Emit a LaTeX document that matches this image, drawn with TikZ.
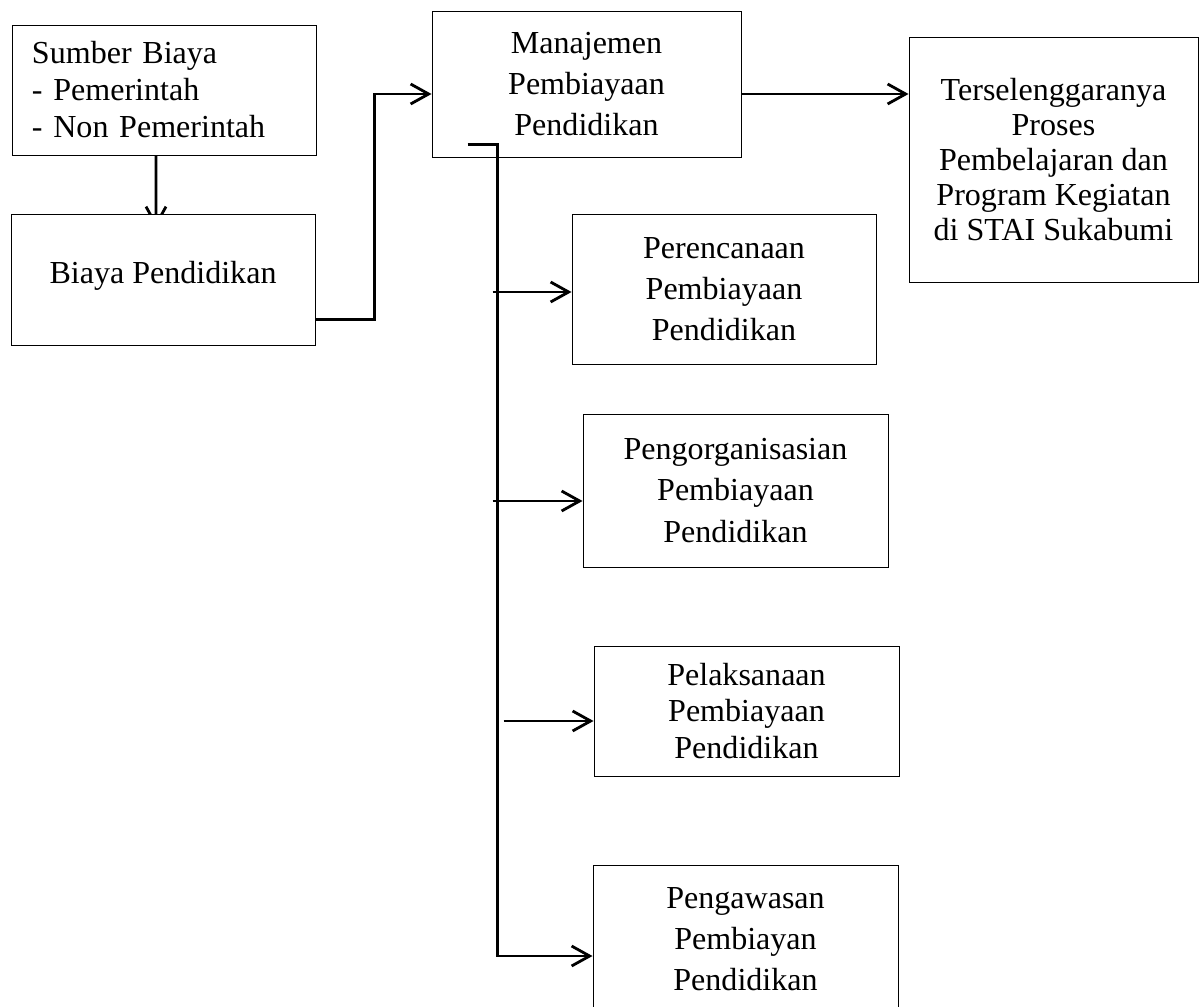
\documentclass[tikz,border=0pt]{standalone}
\usepackage{fontspec}
\setmainfont{Liberation Serif}
\usetikzlibrary{arrows.meta,backgrounds}

\begin{document}
\begin{tikzpicture}[
  box/.style={draw,line width=0.7pt,fill=white,align=center,inner sep=0pt,
    font=\fontsize{22.8}{29.2}\selectfont},
  tight/.style={font=\fontsize{22.8}{26.3}\selectfont},
  arr/.style={line width=2pt,-{Straight Barb[length=0.45cm,width=0.5cm]}}
]

  \useasboundingbox (0,0) rectangle (29.975,-25.15);

  \node[box,tight,align=left,text width=6.6cm,minimum width=7.6cm,minimum height=3.25cm] (sumber) at (4.1,-2.25) {Sumber Biaya\\- Pemerintah\\- Non Pemerintah};
  \node[box,below of=sumber,xshift=-0.025cm,yshift=-3.7375cm,minimum width=7.6cm,minimum height=3.275cm,text height=0.5cm,text depth=0.325cm] (biaya) {Biaya Pendidikan};

  \node[box,right of=sumber,xshift=9.5625cm,yshift=0.15cm,minimum width=7.725cm,minimum height=3.65cm] (manajemen) {Manajemen\\Pembiayaan\\Pendidikan};
  \node[box,right of=manajemen,xshift=10.675cm,yshift=-1.8875cm,minimum width=7.225cm,minimum height=6.125cm,font=\fontsize{22.8}{24.9}\selectfont] (tujuan) {Terselenggaranya\\Proses\\Pembelajaran dan\\Program Kegiatan\\di STAI Sukabumi};

  \node[box,below of=manajemen,xshift=3.4375cm,yshift=-4.125cm,minimum width=7.6cm,minimum height=3.75cm] (perencanaan) {Perencanaan\\Pembiayaan\\Pendidikan};
  \node[box,below of=perencanaan,xshift=0.2875cm,yshift=-4.0375cm,minimum width=7.625cm,minimum height=3.825cm] (pengorganisasian) {Pengorganisasian\\Pembiayaan\\Pendidikan};
  \node[box,tight,below of=pengorganisasian,xshift=0.275cm,yshift=-4.5125cm,minimum width=7.625cm,minimum height=3.25cm] (pelaksanaan) {Pelaksanaan\\Pembiayaan\\Pendidikan};
  \node[box,below of=pelaksanaan,xshift=-0.025cm,yshift=-4.7cm,minimum width=7.625cm,minimum height=3.7cm] (pengawasan) {Pengawasan\\Pembiayan\\Pendidikan};

  \begin{pgfonlayer}{background}
    \draw[arr] ([xshift=-0.2cm]sumber.south) -- ([xshift=-0.175cm,yshift=-0.35cm]biaya.north);
  \end{pgfonlayer}
  \draw[arr] ([yshift=-0.99cm]biaya.east) -- ++(1.475cm,0) |- ([yshift=-0.25cm]manajemen.west);
  \draw[arr] ([yshift=-0.25cm]manajemen.east) -- ([yshift=-0.25cm]manajemen.east -| tujuan.west);

  \coordinate (cabang) at ([shift={(0.9cm,0.325cm)}]manajemen.south west);
  \draw[arr] (cabang) -- ++(0.75cm,0) coordinate (trunk) |- ([yshift=-0.425cm]pengawasan.west);
  \draw[arr] ([xshift=-0.125cm,yshift=-0.075cm]trunk |- perencanaan.west) -- ([yshift=-0.075cm]perencanaan.west);
  \draw[arr] ([xshift=-0.125cm,yshift=-0.2625cm]trunk |- pengorganisasian.west) -- ([yshift=-0.2625cm]pengorganisasian.west);
  \draw[arr] ([xshift=0.15cm,yshift=-0.25cm]trunk |- pelaksanaan.west) -- ([yshift=-0.25cm]pelaksanaan.west);

\end{tikzpicture}
\end{document}
